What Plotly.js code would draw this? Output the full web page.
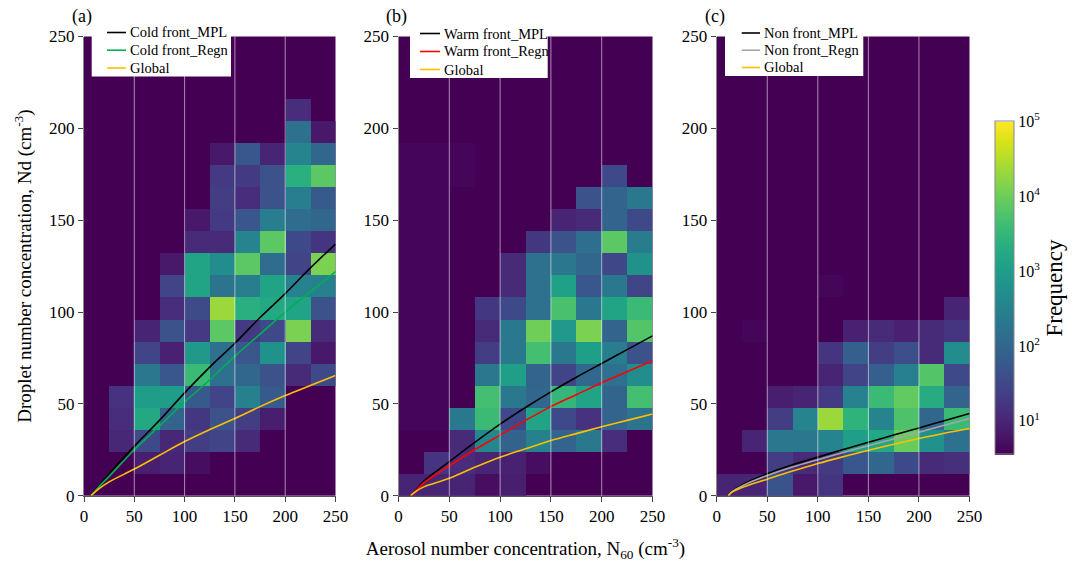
<!DOCTYPE html>
<html>
<head>
<meta charset="utf-8">
<script src="https://cdn.plot.ly/plotly-3.0.1.min.js"></script>
<style>
  html, body { margin: 0; padding: 0; background: #ffffff; }
  #chart { width: 1073px; height: 565px; }
</style>
</head>
<body>
<div id="chart"></div>
<script>
// Bin centres: aerosol N60 (25 cm^-3 wide) and droplet Nd (12 cm^-3 wide)
const n60Bins = [12.5, 37.5, 62.5, 87.5, 112.5, 137.5, 162.5, 187.5, 212.5, 237.5];
const ndBins = [6, 18, 30, 42, 54, 66, 78, 90, 102, 114, 126, 138, 150, 162, 174, 186, 198, 210];

// Frequency per cell, one row per Nd bin (lowest Nd first), 0 = no samples
const coldFreq = [
  [0, 0, 0, 0, 0, 0, 0, 0, 0, 0],
  [0, 0, 8, 10, 5, 0, 0, 0, 0, 0],
  [0, 11, 34, 11, 22, 28, 12, 0, 0, 0],
  [0, 13, 1660, 94, 18, 46, 22, 8, 0, 0],
  [0, 15, 1000, 1000, 62, 28, 290, 62, 0, 0],
  [0, 0, 215, 56, 3750, 158, 105, 46, 12, 34],
  [0, 0, 28, 9, 810, 158, 56, 600, 28, 7],
  [0, 0, 10, 46, 19, 7700, 20, 34, 12900, 12],
  [0, 0, 0, 13, 38, 21500, 2250, 1660, 1350, 46],
  [0, 0, 0, 28, 1350, 174, 262, 1350, 320, 290],
  [0, 0, 0, 7, 1350, 490, 7700, 130, 28, 12900],
  [0, 0, 0, 0, 12, 12, 355, 7700, 34, 17],
  [0, 0, 0, 0, 7, 20, 56, 262, 130, 105],
  [0, 0, 0, 0, 0, 22, 13, 46, 262, 62],
  [0, 0, 0, 0, 0, 20, 20, 46, 2250, 7700],
  [0, 0, 0, 0, 0, 7, 56, 10, 355, 105],
  [0, 0, 0, 0, 0, 0, 0, 0, 158, 7],
  [0, 0, 0, 0, 0, 0, 0, 0, 13, 0]
];
const warmFreq = [
  [10, 10, 10, 5, 8, 0, 0, 0, 0, 0],
  [0, 17, 13, 10, 9, 5, 0, 0, 0, 0],
  [0, 0, 12, 400, 85, 290, 94, 215, 13, 0],
  [4, 4, 215, 3750, 34, 1350, 34, 15, 94, 174],
  [4, 4, 0, 4650, 215, 105, 3070, 1350, 94, 4650],
  [4, 4, 0, 215, 1100, 94, 28, 116, 158, 490],
  [4, 4, 0, 22, 215, 4650, 215, 1100, 262, 46],
  [4, 4, 0, 12, 215, 10500, 810, 12900, 94, 6300],
  [4, 4, 0, 18, 34, 158, 5120, 215, 1350, 3750],
  [4, 4, 0, 0, 12, 158, 1220, 56, 215, 28],
  [4, 4, 0, 0, 12, 158, 215, 105, 31, 600],
  [4, 4, 0, 0, 0, 18, 46, 142, 7700, 237],
  [4, 4, 0, 0, 0, 0, 10, 12, 94, 34],
  [4, 4, 0, 0, 0, 0, 0, 46, 94, 215],
  [4, 4, 4, 0, 0, 0, 0, 0, 34, 0],
  [4, 4, 4, 0, 0, 0, 0, 0, 0, 0],
  [0, 0, 0, 0, 0, 0, 0, 0, 0, 0],
  [0, 0, 0, 0, 0, 0, 0, 0, 0, 0]
];
const nonFreq = [
  [10, 10, 51, 7, 17, 0, 0, 0, 0, 0],
  [0, 0, 22, 12, 20, 56, 105, 34, 12, 14],
  [0, 10, 215, 215, 355, 1100, 1660, 9500, 600, 158],
  [0, 0, 22, 355, 21500, 2750, 355, 5700, 105, 3750],
  [0, 0, 8, 10, 20, 320, 3750, 8500, 2040, 94],
  [0, 0, 0, 0, 10, 28, 77, 290, 6300, 34],
  [0, 0, 0, 0, 17, 77, 22, 42, 12, 490],
  [0, 4, 0, 0, 0, 9, 12, 9, 12, 17],
  [0, 0, 0, 0, 0, 0, 0, 0, 0, 10],
  [0, 0, 0, 0, 4, 0, 0, 0, 0, 0],
  [0, 0, 0, 0, 0, 0, 0, 0, 0, 0],
  [0, 0, 0, 0, 0, 0, 0, 0, 0, 0],
  [0, 0, 0, 0, 0, 0, 0, 0, 0, 0],
  [0, 0, 0, 0, 0, 0, 0, 0, 0, 0],
  [0, 0, 0, 0, 0, 0, 0, 0, 0, 0],
  [0, 0, 0, 0, 0, 0, 0, 0, 0, 0],
  [0, 0, 0, 0, 0, 0, 0, 0, 0, 0],
  [0, 0, 0, 0, 0, 0, 0, 0, 0, 0]
];

// Fitted Nd(N60) relations, sampled along N60
const coldN60 = [7, 15, 25, 50, 75, 100, 125, 150, 175, 200, 225, 250];
const coldMPL = [0, 5.6, 12, 27, 41, 56, 70, 83, 97, 110, 124, 137];
const coldRegn = [0, 5, 10.5, 25, 38, 51, 63, 76, 88, 100, 111, 122];
const coldGlobal = [0, 3.8, 7.5, 14.5, 22, 29.5, 36, 42, 48.5, 54.5, 60, 65.5];

const warmN60 = [12, 17, 25, 50, 75, 100, 125, 150, 175, 200, 225, 250];
const warmMPL = [0, 3, 8, 18.5, 29, 39, 48, 56.5, 64.5, 72, 79.5, 87];
const warmRegn = [0, 2.8, 7, 16.3, 25, 33, 41, 48.5, 55, 61.5, 67.5, 73.5];
const warmGlobal = [0, 2.3, 4.8, 9.5, 15.5, 21, 25.5, 30, 33.8, 37.5, 41, 44.5];

const nonN60 = [11.5, 15, 25, 50, 75, 100, 125, 150, 175, 200, 225, 250];
const nonMPL = [0, 2.3, 5.8, 12, 16.8, 21, 25.1, 29.1, 33, 36.9, 40.8, 44.7];
const nonRegn = [0, 2.1, 5.3, 11, 15.6, 19.6, 23.5, 27.2, 30.9, 34.6, 38.3, 42];
const nonGlobal = [0, 1.9, 4.5, 9, 13.4, 17.5, 21.2, 24.7, 28, 31.1, 34, 36.6];

const panelLabels = ['(a)', '(b)', '(c)'];
const colorbarTicks = [1, 2, 3, 4, 5];

const FONT = "'Liberation Serif', 'Times New Roman', serif";
const W = 1073, H = 565;
const px = v => v / W;
const py = v => 1 - v / H;

const toLog = rows => rows.map(r => r.map(v => (v > 0 ? Math.log10(v) : null)));

function heat(freq, xa, ya) {
  return {
    type: 'heatmap', x: n60Bins, y: ndBins, z: toLog(freq),
    coloraxis: 'coloraxis', xaxis: xa, yaxis: ya, showlegend: false,
    hovertemplate: 'N60 %{x}<br>Nd %{y}<extra></extra>'
  };
}
function curve(x, y, name, color, xa, ya) {
  return {
    type: 'scatter', mode: 'lines', x: x, y: y, name: name,
    line: { color: color, width: 1.6, shape: 'spline', smoothing: 1 },
    xaxis: xa, yaxis: ya, showlegend: false
  };
}

const GOLD = '#ffbf00';
const panels = [
  { xa: 'x', ya: 'y', freq: coldFreq, curves: [
      [coldN60, coldMPL, 'Cold front_MPL', '#000000'],
      [coldN60, coldRegn, 'Cold front_Regn', '#00b050'],
      [coldN60, coldGlobal, 'Global', GOLD]] },
  { xa: 'x2', ya: 'y2', freq: warmFreq, curves: [
      [warmN60, warmMPL, 'Warm front_MPL', '#000000'],
      [warmN60, warmRegn, 'Warm front_Regn', '#ff0000'],
      [warmN60, warmGlobal, 'Global', GOLD]] },
  { xa: 'x3', ya: 'y3', freq: nonFreq, curves: [
      [nonN60, nonMPL, 'Non front_MPL', '#000000'],
      [nonN60, nonRegn, 'Non front_Regn', '#a6a6a6'],
      [nonN60, nonGlobal, 'Global', GOLD]] }
];

const data = [];
panels.forEach(p => data.push(heat(p.freq, p.xa, p.ya)));
panels.forEach(p => p.curves.forEach(c => data.push(curve(c[0], c[1], c[2], c[3], p.xa, p.ya))));

const yDomain = [py(495.7), py(36.5)];
const xDomains = [[px(84), px(335.5)], [px(398.5), px(652.5)], [px(716.7), px(969.5)]];

const TICKFONT = { family: FONT, size: 17, color: '#000' };
function xAxis(dom, anchor) {
  return {
    domain: dom, anchor: anchor, range: [0, 250], tickmode: 'array',
    tickvals: [0, 50, 100, 150, 200, 250], ticks: 'outside', ticklen: 5,
    tickcolor: '#444', showline: true, linecolor: '#555', linewidth: 1,
    showgrid: false, zeroline: false, tickfont: TICKFONT
  };
}
function yAxis(anchor) {
  return {
    domain: yDomain, anchor: anchor, range: [0, 250], tickmode: 'array',
    tickvals: [0, 50, 100, 150, 200, 250], ticks: 'outside', ticklen: 5,
    tickcolor: '#444', showline: true, linecolor: '#888', linewidth: 1,
    showgrid: false, zeroline: false, tickfont: TICKFONT
  };
}

const layout = {
  width: W, height: H,
  margin: { l: 0, r: 0, t: 0, b: 0 },
  paper_bgcolor: '#ffffff',
  plot_bgcolor: '#440154',
  font: { family: FONT, color: '#000', size: 16 },
  showlegend: false,
  xaxis: xAxis(xDomains[0], 'y'),
  xaxis2: Object.assign(xAxis(xDomains[1], 'y2'), {
    title: { text: 'Aerosol number concentration, N<sub>60</sub> (cm<sup>-3</sup>)',
             font: { family: FONT, size: 19 }, standoff: 16 }
  }),
  xaxis3: xAxis(xDomains[2], 'y3'),
  yaxis: Object.assign(yAxis('x'), {
    title: { text: 'Droplet number concentration, Nd (cm<sup>-3</sup>)',
             font: { family: FONT, size: 19 }, standoff: 12 }
  }),
  yaxis2: yAxis('x2'),
  yaxis3: yAxis('x3'),
  coloraxis: {
    colorscale: 'Viridis', cmin: 0.55, cmax: 5,
    colorbar: {
      x: px(995), xanchor: 'left', xpad: 0,
      y: py(288), yanchor: 'middle', ypad: 0,
      lenmode: 'pixels', len: 333, thickness: 19,
      outlinecolor: '#888', outlinewidth: 1, ticks: '',
      tickmode: 'array', tickvals: colorbarTicks,
      ticktext: colorbarTicks.map(k => '10<sup>' + k + '</sup>'),
      tickfont: { family: FONT, size: 16 },
      title: { text: 'Frequency', side: 'right', font: { family: FONT, size: 23 } }
    }
  },
  shapes: [],
  annotations: []
};

// Faint vertical guide lines over the heatmaps
panels.forEach((p, i) => {
  [50, 100, 150, 200].forEach(v => {
    layout.shapes.push({
      type: 'line', xref: p.xa, yref: p.ya + ' domain', x0: v, x1: v, y0: 0, y1: 1,
      line: { color: 'rgba(255,255,255,0.55)', width: 1 }, layer: 'above'
    });
  });
  layout.annotations.push({
    text: panelLabels[i], xref: 'paper', yref: 'paper',
    x: xDomains[i][0] - px(2), y: py(17), xanchor: 'center', yanchor: 'middle',
    showarrow: false, font: { family: FONT, size: 18 }
  });
});

// Key boxes in the upper-left corner of each panel (pixel geometry)
const keyBoxes = [
  { left: 91.7, right: 231, bottom: 76.5, lineX: [107, 126], textX: 127.5, rows: [32.5, 50.2, 68] },
  { left: 410, right: 547.7, bottom: 78, lineX: [420, 440], textX: 441.5, rows: [33.5, 51.5, 69.5] },
  { left: 725, right: 863.3, bottom: 76, lineX: [741.7, 760], textX: 761.5, rows: [33, 50.2, 67.5] }
];
panels.forEach((p, i) => {
  const k = keyBoxes[i];
  layout.shapes.push({
    type: 'rect', xref: 'paper', yref: 'paper',
    x0: px(k.left), x1: px(k.right), y0: py(k.bottom), y1: py(25),
    fillcolor: '#ffffff', line: { width: 0 }, layer: 'above'
  });
  p.curves.forEach((c, j) => {
    layout.shapes.push({
      type: 'line', xref: 'paper', yref: 'paper',
      x0: px(k.lineX[0]), x1: px(k.lineX[1]), y0: py(k.rows[j]), y1: py(k.rows[j]),
      line: { color: c[3], width: 1.6 }, layer: 'above'
    });
    layout.annotations.push({
      text: c[2], xref: 'paper', yref: 'paper', x: px(k.textX), y: py(k.rows[j]),
      xanchor: 'left', yanchor: 'middle', showarrow: false,
      font: { family: FONT, size: 14.5, color: '#000' }
    });
  });
});

Plotly.newPlot('chart', data, layout, { displayModeBar: false, staticPlot: true });
</script>
</body>
</html>
